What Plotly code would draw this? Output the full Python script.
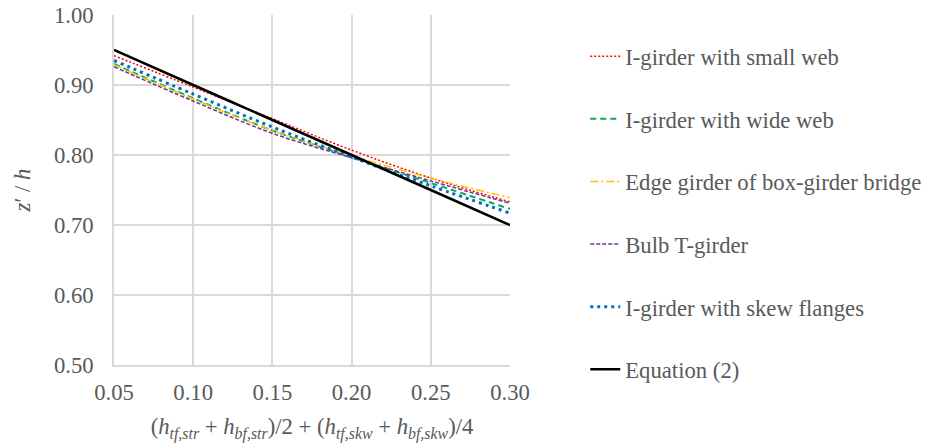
import plotly.graph_objects as go

x_vals = [0.05, 0.10, 0.15, 0.20, 0.25, 0.30]
small_web = [0.942, 0.897, 0.852, 0.807, 0.767, 0.733]
wide_web = [0.930, 0.881, 0.835, 0.797, 0.760, 0.723]
edge_girder = [0.929, 0.880, 0.835, 0.799, 0.767, 0.739]
bulb_t = [0.926, 0.877, 0.831, 0.796, 0.763, 0.731]
skew_flanges = [0.935, 0.887, 0.840, 0.797, 0.756, 0.717]
equation2 = [0.95, 0.90, 0.85, 0.80, 0.75, 0.70]

x_ticks = [0.05, 0.10, 0.15, 0.20, 0.25, 0.30]
x_tick_labels = ["0.05", "0.10", "0.15", "0.20", "0.25", "0.30"]
y_ticks = [0.50, 0.60, 0.70, 0.80, 0.90, 1.00]
y_tick_labels = ["0.50", "0.60", "0.70", "0.80", "0.90", "1.00"]

series = [
    ("I-girder with small web", small_web, "#ff0000", 1.5, "2px,2px"),
    ("I-girder with wide web", wide_web, "#00b050", 2, "6px,4px"),
    ("Edge girder of box-girder bridge", edge_girder, "#ffc000", 1.5, "8px,3px,2px,3px"),
    ("Bulb T-girder", bulb_t, "#7030a0", 1.5, "4px,2px"),
    ("I-girder with skew flanges", skew_flanges, "#0070c0", 3, "3px,4px"),
    ("Equation (2)", equation2, "#000000", 2.5, "solid"),
]

FONT = "Liberation Serif, serif"
GRAY = "#595959"
GRID = "#d9d9d9"
FS = 22.7
tfont = dict(family=FONT, size=FS, color=GRAY)

fig = go.Figure()
for i, (name, ys, color, w, dash) in enumerate(series):
    fig.add_trace(go.Scatter(
        x=x_vals, y=ys, mode="lines", name=name,
        line=dict(color=color, width=w, dash=dash, shape="spline"),
        legendgroup=f"g{i}",
    ))

fig.update_layout(
    width=934, height=443,
    margin=dict(l=114, r=424, t=15, b=78, autoexpand=False),
    paper_bgcolor="white", plot_bgcolor="white",
    font=tfont,
    showlegend=True,
    legend=dict(
        x=1.19, xanchor="left", y=(350 - 20) / 350, yanchor="top",
        font=tfont, maxheight=443,
        tracegroupgap=30.1, bgcolor="rgba(0,0,0,0)",
    ),
    xaxis=dict(
        range=[0.05, 0.30], tickvals=x_ticks, ticktext=x_tick_labels,
        tickfont=tfont, automargin=False, ticklabeloverflow="allow",
        showgrid=True, gridcolor=GRID, gridwidth=1.5,
        showline=True, linecolor=GRID, linewidth=1.5, mirror=False,
        zeroline=False, ticks="", ticklabelstandoff=6,
        title=dict(
            text="(<i>h</i><sub><i>tf,str</i></sub> + <i>h</i><sub><i>bf,str</i></sub>)/2 + "
                 "(<i>h</i><sub><i>tf,skw</i></sub> + <i>h</i><sub><i>bf,skw</i></sub>)/4",
            font=tfont, standoff=22,
        ),
    ),
    yaxis=dict(
        range=[0.50, 1.00], tickvals=y_ticks, ticktext=y_tick_labels,
        tickfont=tfont, automargin=False, ticklabeloverflow="allow",
        showgrid=True, gridcolor=GRID, gridwidth=1.5,
        showline=True, linecolor=GRID, linewidth=1.5,
        zeroline=False, ticks="", ticklabelstandoff=14,
        title=dict(text="<i>z</i>′ / <i>h</i>", font=tfont, standoff=17),
    ),
)

fig.write_html(
    "out.html",
    config={"displayModeBar": False},
    post_script="document.body.style.margin='0px';",
)
